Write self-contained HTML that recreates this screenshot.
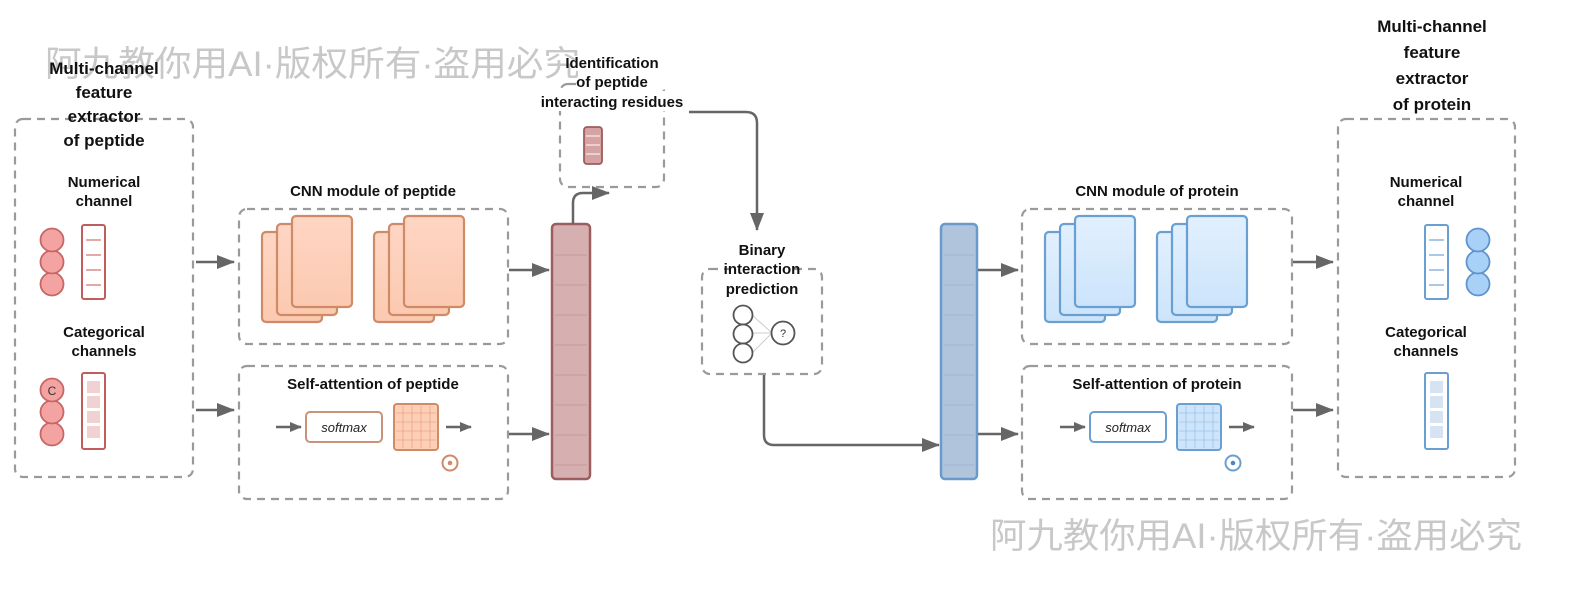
<!DOCTYPE html>
<html><head><meta charset="utf-8"><style>
html,body{margin:0;padding:0;background:#fff;}
svg{display:block;font-family:"Liberation Sans",Arial,sans-serif;}
.t{font-weight:bold;font-size:15px;text-anchor:middle;fill:#111;}
.tt{font-weight:bold;font-size:17px;text-anchor:middle;fill:#111;}
.box{fill:none;stroke:#9a9a9a;stroke-width:2.2;stroke-dasharray:8 6;}
.ln{fill:none;stroke:#666;stroke-width:2.5;}
.wm{font-family:"Liberation Sans","Noto Sans CJK SC",sans-serif;font-size:35px;fill:#c8c8c8;}
</style></head><body>
<svg width="1575" height="600" viewBox="0 0 1575 600" xmlns="http://www.w3.org/2000/svg">
<defs>
<marker id="ah" viewBox="0 0 18 14" refX="17" refY="7" markerWidth="18" markerHeight="14" orient="auto" markerUnits="userSpaceOnUse"><path d="M0,0 L18,7 L0,14 z" fill="#666"/></marker>
<marker id="ahs" viewBox="0 0 12 10" refX="11" refY="5" markerWidth="12" markerHeight="10" orient="auto" markerUnits="userSpaceOnUse"><path d="M0,0 L12,5 L0,10 z" fill="#666"/></marker>
<linearGradient id="og" x1="0" y1="0" x2="0" y2="1"><stop offset="0" stop-color="#fed6c4"/><stop offset="1" stop-color="#fcc9b0"/></linearGradient>
<linearGradient id="bg" x1="0" y1="0" x2="0" y2="1"><stop offset="0" stop-color="#e2f0fe"/><stop offset="1" stop-color="#cce4fb"/></linearGradient>
</defs>

<text class="wm" x="45" y="76" textLength="535" lengthAdjust="spacingAndGlyphs">阿九教你用AI·版权所有·盗用必究</text>
<text class="wm" x="990" y="548" textLength="532" lengthAdjust="spacingAndGlyphs">阿九教你用AI·版权所有·盗用必究</text>

<!-- Left feature extractor -->
<rect class="box" x="15" y="119" width="178" height="358" rx="8"/>
<text class="tt" x="104" y="74">Multi-channel</text>
<text class="tt" x="104" y="98">feature</text>
<text class="tt" x="104" y="122">extractor</text>
<text class="tt" x="104" y="146">of peptide</text>
<text class="t" x="104" y="187">Numerical</text>
<text class="t" x="104" y="206">channel</text>
<g fill="#f4a3a3" stroke="#c76666" stroke-width="1.8">
<circle cx="52" cy="284" r="11.5"/><circle cx="52" cy="262" r="11.5"/><circle cx="52" cy="240" r="11.5"/>
</g>
<rect x="82" y="225" width="23" height="74" rx="2" fill="#fff" stroke="#c05e5e" stroke-width="2"/>
<g stroke="#d88c8c" stroke-width="1.5"><line x1="86" y1="240" x2="101" y2="240"/><line x1="86" y1="255" x2="101" y2="255"/><line x1="86" y1="270" x2="101" y2="270"/><line x1="86" y1="285" x2="101" y2="285"/></g>
<text class="t" x="104" y="337">Categorical</text>
<text class="t" x="104" y="356">channels</text>
<g fill="#f4a3a3" stroke="#c76666" stroke-width="1.8">
<circle cx="52" cy="434" r="11.5"/><circle cx="52" cy="412" r="11.5"/><circle cx="52" cy="390" r="11.5"/>
</g>
<text x="52" y="395" font-size="12" text-anchor="middle" fill="#333">C</text>
<rect x="82" y="373" width="23" height="76" rx="2" fill="#fff" stroke="#c05e5e" stroke-width="2"/>
<g fill="#f0d2d2"><rect x="87" y="381" width="13" height="12"/><rect x="87" y="396" width="13" height="12"/><rect x="87" y="411" width="13" height="12"/><rect x="87" y="426" width="13" height="12"/></g>

<line class="ln" x1="196" y1="262" x2="234" y2="262" marker-end="url(#ah)"/>
<line class="ln" x1="196" y1="410" x2="234" y2="410" marker-end="url(#ah)"/>

<!-- CNN peptide -->
<text class="t" x="373" y="196">CNN module of peptide</text>
<rect class="box" x="239" y="209" width="269" height="135" rx="8"/>
<g fill="url(#og)" stroke="#cf8a67" stroke-width="2.2">
<rect x="262" y="232" width="60" height="90" rx="4"/><rect x="277" y="224" width="60" height="91" rx="4"/><rect x="292" y="216" width="60" height="91" rx="4"/>
<rect x="374" y="232" width="60" height="90" rx="4"/><rect x="389" y="224" width="60" height="91" rx="4"/><rect x="404" y="216" width="60" height="91" rx="4"/>
</g>
<line class="ln" x1="509" y1="270" x2="549" y2="270" marker-end="url(#ah)"/>

<!-- Self-attention peptide -->
<rect class="box" x="239" y="366" width="269" height="133" rx="8"/>
<text class="t" x="373" y="389">Self-attention of peptide</text>
<line class="ln" x1="276" y1="427" x2="301" y2="427" stroke-width="2" marker-end="url(#ahs)"/>
<rect x="306" y="412" width="76" height="30" rx="4" fill="#fff" stroke="#c9937a" stroke-width="2"/>
<text x="344" y="432" font-size="13" font-style="italic" text-anchor="middle" fill="#222">softmax</text>
<rect x="394" y="404" width="44" height="46" rx="3" fill="#fdcfb7" stroke="#cf8a67" stroke-width="2"/>
<g stroke="#eaa688" stroke-width="0.8"><line x1="403" y1="406" x2="403" y2="448"/><line x1="412" y1="406" x2="412" y2="448"/><line x1="421" y1="406" x2="421" y2="448"/><line x1="430" y1="406" x2="430" y2="448"/><line x1="396" y1="413" x2="436" y2="413"/><line x1="396" y1="422" x2="436" y2="422"/><line x1="396" y1="431" x2="436" y2="431"/><line x1="396" y1="440" x2="436" y2="440"/></g>
<line class="ln" x1="446" y1="427" x2="471" y2="427" stroke-width="2" marker-end="url(#ahs)"/>
<circle cx="450" cy="463" r="7.5" fill="#fff" stroke="#cf8a67" stroke-width="2"/><circle cx="450" cy="463" r="2.3" fill="#cf8a67"/>
<line class="ln" x1="509" y1="434" x2="549" y2="434" marker-end="url(#ah)"/>

<!-- Peptide bar -->
<rect x="552" y="224" width="38" height="255" rx="4" fill="#d6b0b1" stroke="#9c5d5e" stroke-width="2.5"/>
<g stroke="#c49a9b" stroke-width="1"><line x1="555" y1="255" x2="587" y2="255"/><line x1="555" y1="285" x2="587" y2="285"/><line x1="555" y1="315" x2="587" y2="315"/><line x1="555" y1="345" x2="587" y2="345"/><line x1="555" y1="375" x2="587" y2="375"/><line x1="555" y1="405" x2="587" y2="405"/><line x1="555" y1="435" x2="587" y2="435"/><line x1="555" y1="465" x2="587" y2="465"/></g>
<path class="ln" d="M573,224 L573,203 Q573,193 583,193 L609,193" marker-end="url(#ah)"/>

<!-- Identification box -->
<rect class="box" x="560" y="84" width="104" height="103" rx="8"/>
<rect x="578" y="56" width="84" height="52" fill="#fff"/>
<rect x="527" y="91" width="164" height="20" fill="#fff"/>
<text class="t" x="612" y="68">Identification</text>
<text class="t" x="612" y="87">of peptide</text>
<text class="t" x="612" y="107">interacting residues</text>
<rect x="584" y="127" width="18" height="37" rx="3" fill="#d6a3a4" stroke="#9c5d5e" stroke-width="1.8"/>
<g stroke="#f3dede" stroke-width="1.5"><line x1="586" y1="136" x2="600" y2="136"/><line x1="586" y1="145" x2="600" y2="145"/><line x1="586" y1="154" x2="600" y2="154"/></g>
<path class="ln" d="M689,112 L746,112 Q757,112 757,123 L757,230" marker-end="url(#ah)"/>

<!-- Binary -->
<rect class="box" x="702" y="269" width="120" height="105" rx="8"/>
<rect x="730" y="262" width="64" height="14" fill="#fff"/>
<text class="t" x="762" y="255">Binary</text>
<text class="t" x="762" y="274">interaction</text>
<text class="t" x="762" y="294">prediction</text>
<g stroke="#ccc" stroke-width="1"><line x1="752" y1="315" x2="772" y2="333"/><line x1="752" y1="333" x2="772" y2="333"/><line x1="752" y1="353" x2="772" y2="333"/></g>
<g fill="#fff" stroke="#555" stroke-width="1.8"><circle cx="743" cy="315" r="9.5"/><circle cx="743" cy="334" r="9.5"/><circle cx="743" cy="353" r="9.5"/><circle cx="783" cy="333" r="11.5"/></g>
<text x="783" y="337" font-size="11" text-anchor="middle" fill="#333">?</text>
<path class="ln" d="M764,375 L764,435 Q764,445 774,445 L939,445" marker-end="url(#ah)"/>

<!-- Protein bar -->
<rect x="941" y="224" width="36" height="255" rx="4" fill="#b0c4dc" stroke="#6a9acb" stroke-width="2.5"/>
<g stroke="#9fb6d2" stroke-width="1"><line x1="944" y1="255" x2="974" y2="255"/><line x1="944" y1="285" x2="974" y2="285"/><line x1="944" y1="315" x2="974" y2="315"/><line x1="944" y1="345" x2="974" y2="345"/><line x1="944" y1="375" x2="974" y2="375"/><line x1="944" y1="405" x2="974" y2="405"/><line x1="944" y1="435" x2="974" y2="435"/><line x1="944" y1="465" x2="974" y2="465"/></g>
<line class="ln" x1="978" y1="270" x2="1018" y2="270" marker-end="url(#ah)"/>
<line class="ln" x1="978" y1="434" x2="1018" y2="434" marker-end="url(#ah)"/>

<!-- CNN protein -->
<text class="t" x="1157" y="196">CNN module of protein</text>
<rect class="box" x="1022" y="209" width="270" height="135" rx="8"/>
<g fill="url(#bg)" stroke="#6a9fd1" stroke-width="2.2">
<rect x="1045" y="232" width="60" height="90" rx="4"/><rect x="1060" y="224" width="60" height="91" rx="4"/><rect x="1075" y="216" width="60" height="91" rx="4"/>
<rect x="1157" y="232" width="60" height="90" rx="4"/><rect x="1172" y="224" width="60" height="91" rx="4"/><rect x="1187" y="216" width="60" height="91" rx="4"/>
</g>

<!-- Self-attention protein -->
<rect class="box" x="1022" y="366" width="270" height="133" rx="8"/>
<text class="t" x="1157" y="389">Self-attention of protein</text>
<line class="ln" x1="1060" y1="427" x2="1085" y2="427" stroke-width="2" marker-end="url(#ahs)"/>
<rect x="1090" y="412" width="76" height="30" rx="4" fill="#fff" stroke="#6a9fd1" stroke-width="2"/>
<text x="1128" y="432" font-size="13" font-style="italic" text-anchor="middle" fill="#222">softmax</text>
<rect x="1177" y="404" width="44" height="46" rx="3" fill="#cde4fb" stroke="#6a9fd1" stroke-width="2"/>
<g stroke="#9cc3ea" stroke-width="0.8"><line x1="1186" y1="406" x2="1186" y2="448"/><line x1="1195" y1="406" x2="1195" y2="448"/><line x1="1204" y1="406" x2="1204" y2="448"/><line x1="1213" y1="406" x2="1213" y2="448"/><line x1="1179" y1="413" x2="1219" y2="413"/><line x1="1179" y1="422" x2="1219" y2="422"/><line x1="1179" y1="431" x2="1219" y2="431"/><line x1="1179" y1="440" x2="1219" y2="440"/></g>
<line class="ln" x1="1229" y1="427" x2="1254" y2="427" stroke-width="2" marker-end="url(#ahs)"/>
<circle cx="1233" cy="463" r="7.5" fill="#fff" stroke="#6a9fd1" stroke-width="2"/><circle cx="1233" cy="463" r="2.3" fill="#4a86c8"/>

<line class="ln" x1="1293" y1="262" x2="1333" y2="262" marker-end="url(#ah)"/>
<line class="ln" x1="1293" y1="410" x2="1333" y2="410" marker-end="url(#ah)"/>

<!-- Right feature extractor -->
<rect class="box" x="1338" y="119" width="177" height="358" rx="8"/>
<text class="tt" x="1432" y="32">Multi-channel</text>
<text class="tt" x="1432" y="58">feature</text>
<text class="tt" x="1432" y="84">extractor</text>
<text class="tt" x="1432" y="110">of protein</text>
<text class="t" x="1426" y="187">Numerical</text>
<text class="t" x="1426" y="206">channel</text>
<rect x="1425" y="225" width="23" height="74" rx="2" fill="#fff" stroke="#6a9fd1" stroke-width="2"/>
<g stroke="#8db5df" stroke-width="1.5"><line x1="1429" y1="240" x2="1444" y2="240"/><line x1="1429" y1="255" x2="1444" y2="255"/><line x1="1429" y1="270" x2="1444" y2="270"/><line x1="1429" y1="285" x2="1444" y2="285"/></g>
<g fill="#a9d0f7" stroke="#5f95cc" stroke-width="1.8">
<circle cx="1478" cy="284" r="11.5"/><circle cx="1478" cy="262" r="11.5"/><circle cx="1478" cy="240" r="11.5"/>
</g>
<text class="t" x="1426" y="337">Categorical</text>
<text class="t" x="1426" y="356">channels</text>
<rect x="1425" y="373" width="23" height="76" rx="2" fill="#fff" stroke="#6a9fd1" stroke-width="2"/>
<g fill="#d5e3f3"><rect x="1430" y="381" width="13" height="12"/><rect x="1430" y="396" width="13" height="12"/><rect x="1430" y="411" width="13" height="12"/><rect x="1430" y="426" width="13" height="12"/></g>
</svg>
</body></html>
